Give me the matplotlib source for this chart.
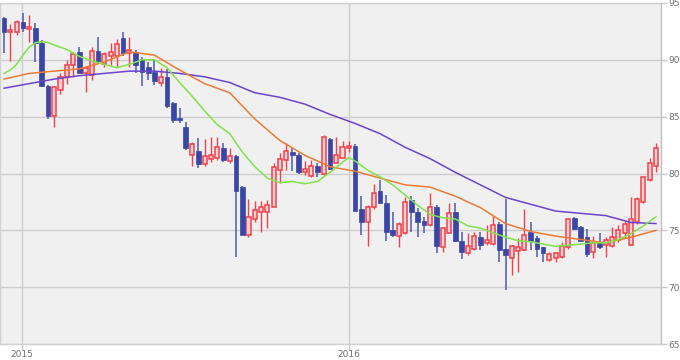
import numpy as np
import pandas as pd
import matplotlib
matplotlib.use("Agg")
import matplotlib.pyplot as plt
import matplotlib.dates as mdates

# weekly candles, first one on 2014-12-12
dates = pd.date_range("2014-12-12", periods=105, freq="W-FRI")

opens = [93.7, 92.4, 92.4, 93.3, 92.7, 92.8, 91.5, 87.7, 85.1, 87.3,
         88.5, 89.5, 90.7, 88.8, 88.7, 90.8, 89.6, 90.3, 90.3, 91.9,
         90.6, 90.7, 90.1, 89.4, 88.9, 88.0, 88.5, 86.2, 84.9, 84.1,
         81.6, 82.0, 80.8, 81.3, 81.4, 82.2, 81.1, 81.5, 78.8, 74.6,
         76.0, 76.6, 76.6, 77.1, 80.3, 81.2, 81.9, 81.6, 80.1, 79.8,
         80.7, 80.0, 83.0, 80.9, 81.4, 82.2, 82.4, 76.9, 75.7, 77.1,
         78.5, 77.4, 75.0, 74.5, 74.8, 77.7, 76.6, 75.8, 75.5, 77.1,
         73.5, 74.8, 76.6, 74.1, 73.0, 73.4, 74.4, 73.9, 73.8, 75.6,
         73.4, 72.6, 73.2, 73.3, 74.9, 74.3, 73.5, 72.4, 72.6, 72.7,
         73.5, 76.1, 75.3, 74.4, 73.1, 73.9, 73.7, 73.6, 74.2, 74.8,
         73.7, 75.7, 77.5, 79.4, 80.7]
highs = [93.8, 93.1, 93.5, 94.1, 93.9, 93.2, 91.7, 87.8, 87.7, 88.8,
         90.0, 90.7, 91.1, 89.4, 91.1, 92.0, 90.7, 91.5, 91.8, 92.4,
         92.0, 90.9, 90.2, 89.8, 90.0, 89.3, 89.2, 86.3, 85.8, 84.5,
         82.8, 83.1, 83.0, 83.2, 83.2, 82.7, 82.2, 81.6, 78.9, 77.8,
         77.6, 77.6, 77.7, 80.9, 81.8, 82.7, 82.2, 81.8, 81.1, 81.2,
         80.9, 83.4, 83.1, 83.2, 82.9, 82.9, 82.6, 78.0, 77.2, 79.1,
         79.4, 78.1, 76.6, 75.7, 77.9, 78.0, 77.0, 76.2, 78.3, 77.2,
         75.3, 77.4, 77.4, 74.9, 74.8, 74.9, 74.9, 75.5, 76.3, 75.7,
         77.8, 73.7, 74.3, 76.9, 75.7, 74.5, 73.5, 73.1, 73.1, 74.0,
         76.1, 76.2, 75.4, 75.1, 74.5, 74.8, 74.4, 75.3, 75.5, 75.8,
         77.9, 77.9, 79.7, 81.4, 82.7]
lows = [90.6, 89.9, 92.2, 92.4, 91.6, 89.8, 87.6, 84.8, 84.1, 87.0,
        87.9, 88.5, 88.8, 87.2, 88.2, 89.8, 89.4, 89.5, 89.4, 90.3,
        89.4, 88.8, 87.7, 88.2, 87.8, 87.7, 85.8, 84.4, 84.4, 82.1,
        80.7, 80.5, 80.7, 81.0, 81.2, 81.0, 80.9, 72.7, 74.6, 74.4,
        75.7, 74.9, 75.2, 77.1, 79.2, 80.3, 80.2, 80.0, 79.9, 79.7,
        79.7, 79.9, 80.3, 80.9, 81.4, 81.9, 76.7, 74.6, 73.6, 76.9,
        77.4, 74.1, 74.4, 73.5, 74.7, 74.9, 74.4, 74.8, 75.4, 73.0,
        73.1, 74.8, 74.0, 72.5, 72.8, 73.3, 73.3, 73.7, 73.7, 72.2,
        69.8, 71.1, 71.3, 73.3, 73.3, 72.7, 72.2, 72.3, 72.2, 72.6,
        73.4, 75.0, 74.0, 72.7, 72.6, 73.4, 72.7, 73.5, 74.0, 74.3,
        73.7, 75.6, 77.4, 79.3, 80.1]
closes = [92.4, 92.6, 93.3, 92.8, 92.9, 91.5, 87.7, 85.1, 87.6, 88.5,
          89.5, 90.5, 88.8, 89.3, 90.8, 89.9, 90.5, 90.7, 91.4, 90.6,
          90.9, 89.5, 88.9, 88.8, 88.1, 88.5, 85.9, 84.7, 84.7, 82.2,
          82.6, 80.8, 81.5, 81.6, 82.3, 81.2, 81.5, 78.5, 74.6, 76.2,
          76.8, 77.1, 77.2, 80.6, 81.3, 82.0, 81.6, 80.1, 80.4, 80.7,
          80.1, 83.2, 80.4, 81.6, 82.3, 82.4, 76.7, 75.7, 77.1, 78.3,
          77.4, 74.9, 74.6, 75.6, 77.5, 76.6, 75.7, 75.5, 77.1, 73.6,
          75.2, 76.5, 74.1, 73.1, 73.6, 74.5, 73.7, 74.2, 75.5, 73.3,
          72.8, 73.6, 73.5, 74.6, 74.1, 73.4, 73.0, 72.9, 73.0, 73.6,
          76.0, 75.1, 74.1, 72.9, 73.9, 73.5, 74.2, 74.4, 75.0, 75.6,
          76.0, 77.8, 79.7, 80.9, 82.2]

# moving average lines (candle index -> value)
ma_short_idx = [0, 1, 2, 3, 4, 5, 6, 7, 8, 10, 12, 14, 16, 18, 20, 22, 24, 26,
                28, 30, 32, 34, 36, 38, 40, 42, 44, 46, 48, 50, 52, 54, 55, 56,
                58, 60, 62, 64, 66, 68, 70, 72, 74, 76, 78, 80, 82, 84, 86, 88,
                90, 92, 94, 96, 98, 100, 102, 104]
ma_short = [88.8, 89.1, 89.6, 90.4, 91.1, 91.5, 91.6, 91.5, 91.3, 90.9,
            90.3, 89.9, 89.6, 89.3, 89.6, 90.0, 90.0, 89.3, 88.0, 86.8,
            85.5, 84.3, 83.5, 81.9, 80.6, 79.6, 79.2, 79.3, 79.1, 79.3,
            80.1, 81.0, 81.4, 81.1, 80.3, 79.7, 79.0, 78.1, 77.2, 76.4,
            76.1, 76.0, 75.4, 75.2, 74.8, 74.4, 74.1, 74.0, 73.8, 73.6,
            73.7, 73.8, 73.9, 73.9, 74.2, 74.7, 75.4, 76.2]
ma_idx = list(range(0, 105, 4))
ma_mid = [88.3, 88.8, 89.0, 89.2, 89.8, 90.7, 90.4, 89.1, 87.9, 87.1,
          84.8, 82.9, 81.6, 80.6, 80.2, 79.6, 79.0, 78.8, 78.0, 77.0,
          75.6, 74.9, 74.5, 74.2, 73.9, 74.4, 75.0]
ma_long = [87.5, 87.9, 88.3, 88.6, 88.8, 89.0, 89.0, 88.8, 88.5, 88.0,
           87.1, 86.7, 86.1, 85.2, 84.4, 83.5, 82.3, 81.3, 80.1, 79.0,
           77.9, 77.3, 76.7, 76.5, 76.3, 75.7, 75.6]

year_ticks = ["2015-01-01", "2016-01-01"]
year_labels = ["2015", "2016"]
y_ticks = [65, 70, 75, 80, 85, 90, 95]

UP = "#f0404a"
DOWN = "#3a46a6"

fig = plt.figure(figsize=(6.8, 3.6), dpi=100)
ax = fig.add_axes([0.0, 0.044, 0.972, 0.948])
ax.set_facecolor("#f0f0f0")

x = mdates.date2num(dates)
o = np.array(opens)
c = np.array(closes)
up = c >= o
body_w = 4.6

# wicks
ax.vlines(x[up], np.array(lows)[up], np.array(highs)[up], color=UP, lw=1.0, zorder=3)
ax.vlines(x[~up], np.array(lows)[~up], np.array(highs)[~up], color="#5a66b4", lw=1.2, zorder=3)

# bodies
ax.bar(x[up], (c - o)[up], bottom=o[up], width=body_w, facecolor="#f6d2d4",
       edgecolor=UP, linewidth=1.1, zorder=4)
ax.bar(x[~up], (o - c)[~up], bottom=c[~up], width=body_w + 0.6, facecolor=DOWN,
       edgecolor=DOWN, linewidth=0.5, zorder=4)

# moving averages
ax.plot(x[ma_idx], ma_long, color="#6b44cc", lw=1.1, zorder=5)
ax.plot(x[ma_idx], ma_mid, color="#ee7a34", lw=1.1, zorder=5)
ax.plot(x[ma_short_idx], ma_short, color="#7fe34a", lw=1.1, zorder=5)

ax.set_xlim(x[0] - 4.5, x[0] + 104.8 * 7)
ax.set_ylim(65, 95)

ax.yaxis.tick_right()
ax.set_yticks(y_ticks)
ax.set_yticklabels([str(v) for v in y_ticks])
ax.set_xticks(mdates.date2num(pd.to_datetime(year_ticks)))
ax.set_xticklabels(year_labels)
ax.tick_params(axis="both", colors="#c8c8c8", labelcolor="#707070",
               labelsize=6.5, length=4, width=1)
ax.tick_params(axis="x", length=4, pad=0.5)
ax.tick_params(axis="y", pad=1.5)

ax.grid(True, color="#cdcdcd", lw=1.0)
ax.set_axisbelow(True)
for side in ["left", "top", "bottom", "right"]:
    ax.spines[side].set_color("#d0d0d0")
    ax.spines[side].set_linewidth(1.0)
ax.spines["right"].set_color("#c0c0c0")

fig.savefig("out.png", dpi=100)
